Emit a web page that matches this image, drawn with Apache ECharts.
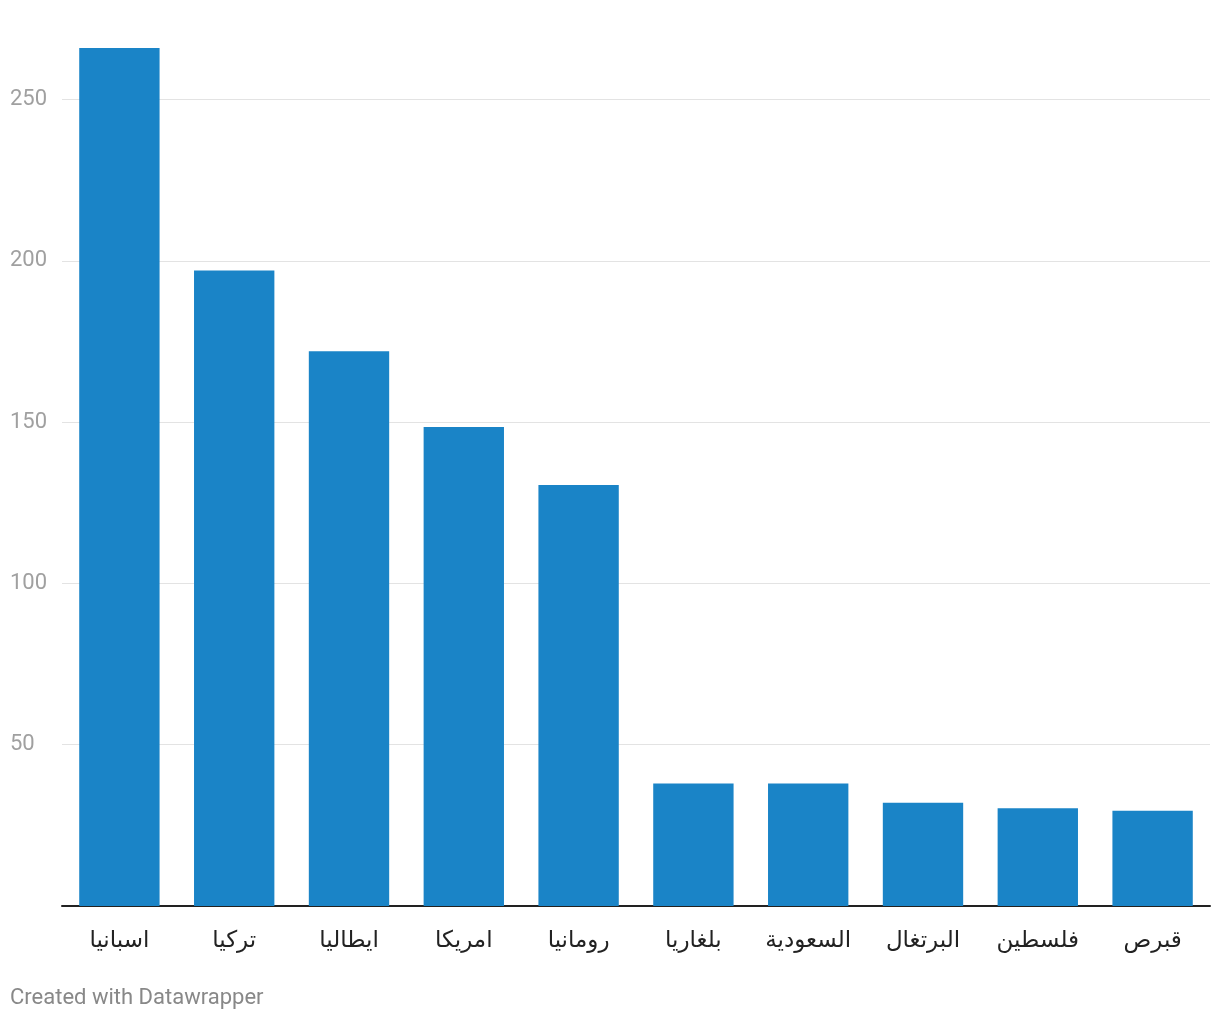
<!DOCTYPE html>
<html>
<head>
<meta charset="utf-8">
<script src="https://cdn.jsdelivr.net/npm/echarts@6/dist/echarts.min.js"></script>
<style>
  body { margin: 0; background: #fff; }
  #main { width: 1220px; height: 1020px; }
</style>
</head>
<body>
<div id="main"></div>
<script>
const countries = ["اسبانيا", "تركيا", "ايطاليا", "امريكا", "رومانيا", "بلغاريا", "السعودية", "البرتغال", "فلسطين", "قبرص"];
const values = [266, 197, 172, 148.5, 130.5, 38, 38, 32, 30.3, 29.5];

const chart = echarts.init(document.getElementById("main"));

const option = {
  backgroundColor: "#fff",
  animation: false,
  textStyle: { fontFamily: "Roboto, 'DejaVu Sans', sans-serif" },
  grid: { left: 62, right: 10, top: 48, bottom: 114 },
  graphic: [{
    type: "text",
    left: 10,
    top: 987,
    style: { text: "Created with Datawrapper", fill: "#888", fontSize: 22, fontFamily: "Roboto, sans-serif" }
  }],
  xAxis: {
    type: "category",
    data: countries,
    axisTick: { show: false },
    axisLine: { lineStyle: { color: "#222", width: 2 } },
    axisLabel: { color: "#222", fontSize: 23, margin: 24 }
  },
  yAxis: {
    type: "value",
    min: 0,
    max: 266,
    interval: 50,
    axisLine: { show: false },
    axisTick: { show: false },
    axisLabel: {
      color: "#a0a0a0",
      fontSize: 22,
      align: "left",
      margin: 52,
      padding: [3, 0, 0, 0],
      showMaxLabel: false,
      formatter: (v) => (v === 0 || v > 250 ? "" : v)
    },
    splitLine: { showMaxLine: false, lineStyle: { color: "#e3e3e3", width: 1 } }
  },
  series: [{
    type: "bar",
    data: values,
    barCategoryGap: "30%",
    itemStyle: { color: "#1a84c7" }
  }]
};

chart.setOption(option);
</script>
</body>
</html>
